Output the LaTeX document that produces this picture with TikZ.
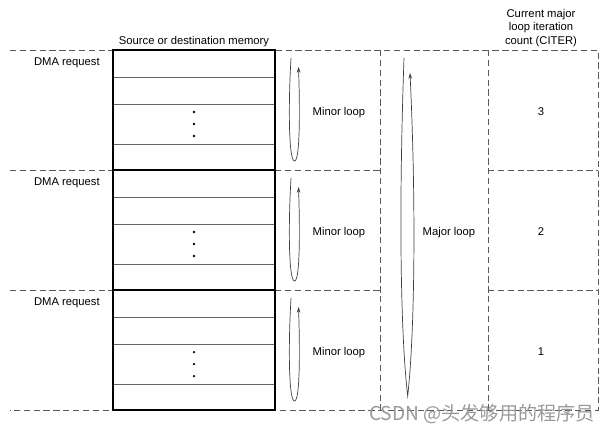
\documentclass[tikz,border=0pt]{standalone}
\usepackage{fontspec}
\setmainfont{Liberation Sans}
\newfontfamily\cjkfont{Noto Sans CJK SC}
\usetikzlibrary{arrows.meta}
\tikzset{
  lbl/.style={font=\fontsize{8}{9.8}\selectfont, inner sep=0pt},
  sep/.style={draw=black!65, dash pattern=on 4.5pt off 2.5pt, line width=0.6pt},
  row/.style={draw=black!60, line width=0.5pt},
  loopline/.style={draw=black!75, line width=0.5pt, -{Stealth[length=4pt,width=2.6pt]}},
}
\begin{document}
\begin{tikzpicture}[x=0.025cm,y=-0.025cm]
\useasboundingbox (0,0) rectangle (610,437);

% headings
\node[lbl] (memhead) at (194,42) {Source or destination memory};
\node[lbl,align=center] (citerhead) at (541,28) {Current major\\loop iteration\\count (CITER)};

% dashed frame
\draw[sep] (10,50) -- (598,50) -- (598,410) -- (10,410);
\draw[sep] (380,50) -- (380,410);
\draw[sep] (488,50) -- (488,410);
\draw[sep] (10,170) -- (113,170) (275,170) -- (380,170) (488,170) -- (598,170);
\draw[sep] (10,290) -- (113,290) (275,290) -- (380,290) (488,290) -- (598,290);

% one block per minor loop
\foreach \blk/\cnt in {0/3,1/2,2/1} {
\begin{scope}[yshift=-\blk*3cm]
\draw[row] (113,77) -- (275,77) (113,104) -- (275,104) (113,144) -- (275,144);
\fill (194,112) circle (1.3) (194,124) circle (1.3) (194,136) circle (1.3);
\node[lbl,anchor=east] (dma\blk) at (100,62.5) {DMA request};
\node[lbl] (minor\blk) at (339,112.5) {Minor loop};
\node[lbl] (citer\blk) at (541,112) {\cnt};
\draw[loopline] (291,58) .. controls (288,110) and (289,161) .. (294.5,161)
  .. controls (300,161) and (300,110) .. (298.5,67);
\end{scope}
}

% memory
\draw[line width=1pt] (113,50) rectangle (275,410);
\draw[line width=1pt] (113,170) -- (275,170) (113,290) -- (275,290);

% major loop
\draw[loopline] (404,58) .. controls (399,200) and (400,330) .. (407.7,396)
  .. controls (415,330) and (416,200) .. (410,73);
\node[lbl] (major) at (449,232.5) {Major loop};

\node[font=\cjkfont\fontsize{13.6}{13.6}\selectfont, text=black!40, inner sep=0pt] (mark) at (482,414) {CSDN @头发够用的程序员};
\end{tikzpicture}
\end{document}
